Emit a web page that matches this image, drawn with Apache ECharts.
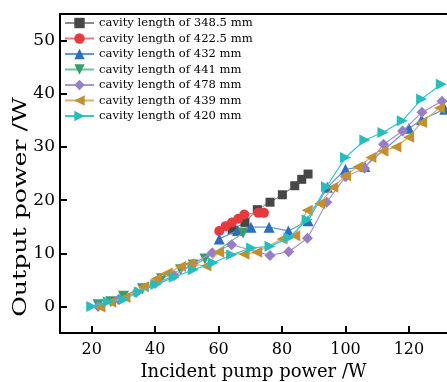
<!DOCTYPE html>
<html>
<head>
<meta charset="utf-8">
<script src="https://cdn.jsdelivr.net/npm/echarts@6/dist/echarts.min.js"></script>
<style>html,body{margin:0;padding:0;background:#fff}#c{width:447px;height:382px}</style>
</head>
<body>
<div id="c"></div>
<script>
const names = ['cavity length of 348.5 mm','cavity length of 422.5 mm','cavity length of 432 mm','cavity length of 441 mm','cavity length of 478 mm','cavity length of 439 mm','cavity length of 420 mm'];

const x348 = [64.3, 68.3, 72.2, 76.2, 80.1, 84.0, 86.2, 88.2];
const y348 = [14.4, 15.8, 18.2, 19.6, 21.0, 22.7, 23.9, 24.9];

const x4225 = [60.2, 62.2, 64.2, 66.2, 68.1, 72.5, 74.3];
const y4225 = [14.2, 15.1, 15.8, 16.5, 17.3, 17.6, 17.6];

const x432 = [60.2, 66.0, 70.2, 75.9, 82.0, 88.2, 94.3, 100.0, 106.1, 120.0, 124.0, 131.3];
const y432 = [12.7, 14.3, 14.9, 14.9, 14.2, 16.1, 22.4, 25.8, 26.3, 33.5, 35.1, 37.1];

const x441 = [22, 26, 30, 36, 42, 48, 52, 55.7, 67.7];
const y441 = [0.3, 0.9, 1.9, 3.3, 5.2, 6.9, 7.8, 8.9, 13.8];

const x478 = [22, 28.4, 34, 40, 46, 52, 58, 64.1, 76.2, 82.1, 88, 94.1, 100, 106, 112, 118, 124.1, 130.4];
const y478 = [0, 1.3, 2.6, 4.3, 5.8, 8.0, 10.1, 11.6, 9.6, 10.3, 12.8, 19.6, 24.4, 26.0, 30.5, 33.0, 36.5, 38.6];

const x439 = [22.6, 26, 30.5, 36.3, 40.3, 43.8, 48, 51, 56, 60, 68, 72, 80, 84, 87.9, 91.9, 96, 100, 103.8, 108, 111.8, 115.9, 119.9, 124, 129.6];
const y439 = [-0.1, 0.8, 1.7, 3.7, 5.2, 6.3, 7.5, 8.0, 7.6, 10.2, 9.8, 10.2, 12.7, 13.3, 18.1, 19.3, 22.4, 24.6, 26.2, 28.0, 29.2, 30.0, 31.8, 34.6, 37.3];

const x420 = [20, 25.2, 30.2, 35, 40.2, 46, 52, 58.3, 64.1, 70.4, 76.2, 82.2, 87.9, 94, 100, 106.1, 111.8, 117.9, 124, 130.2];
const y420 = [0, 0.9, 1.3, 2.7, 4.1, 5.5, 6.9, 8.2, 9.7, 11.0, 11.3, 12.9, 16.3, 22.5, 28.0, 31.3, 32.7, 34.9, 39.0, 41.8];

const xTicks = [20, 40, 60, 80, 100, 120];
const yTicks = [0, 10, 20, 30, 40, 50];
const xName = 'Incident pump power /W';
const yName = 'Output power /W';

const FONT = 'DejaVu Serif';
const zip = (xs, ys) => xs.map((v, i) => [v, ys[i]]);

const styles = [
  {sym:'rect', size:9, rot:0, c:'#474747', l:'#8c8c8c'},
  {sym:'circle', size:10, rot:0, c:'#e63a3f', l:'#ec7a82'},
  {sym:'triangle', size:11, rot:0, c:'#2b6fbe', l:'#5f98d4'},
  {sym:'triangle', size:11, rot:180, c:'#3a9c6e', l:'#6cc29b'},
  {sym:'diamond', size:11, rot:0, c:'#987ec7', l:'#a893d4'},
  {sym:'triangle', size:11, rot:90, c:'#c4902d', l:'#d8b068'},
  {sym:'triangle', size:11, rot:-90, c:'#28bcbc', l:'#3cc5c5'}
];
const datas = [zip(x348,y348), zip(x4225,y4225), zip(x432,y432), zip(x441,y441), zip(x478,y478), zip(x439,y439), zip(x420,y420)];

const series = names.map((n, i) => ({
  name: n, type: 'line', data: datas[i],
  symbol: styles[i].sym, symbolSize: styles[i].size, symbolRotate: styles[i].rot,
  itemStyle: {color: styles[i].c, opacity: 1},
  lineStyle: {color: styles[i].l, width: 1.2},
  z: 2 + i
}));

const chart = echarts.init(document.getElementById('c'), null, {renderer: 'canvas'});
chart.setOption({
  animation: false,
  backgroundColor: '#fff',
  grid: {left: 60, right: 0, top: 14, bottom: 49, containLabel: false, outerBoundsMode: 'none'},
  legend: {
    data: names, orient: 'vertical', left: 64, top: 17, padding: 0,
    itemWidth: 29, itemHeight: 13, itemGap: 3.5,
    textStyle: {fontFamily: FONT, fontSize: 11.6, color: '#000'}
  },
  graphic: [{
    type: 'text', x: 21, y: 207, rotation: Math.PI / 2, scaleX: 1.4,
    style: {text: yName, fontFamily: FONT, fontSize: 18, fill: '#000', align: 'center', verticalAlign: 'middle'}
  }],
  xAxis: [{
    type: 'value', min: 10, max: 132, minInterval: 20, maxInterval: 20,
    name: xName, nameLocation: 'middle', nameGap: 29,
    nameTextStyle: {fontFamily: FONT, fontSize: 18, color: '#000'},
    axisLine: {onZero: false, lineStyle: {color: '#000', width: 2}},
    axisTick: {inside: true, length: 7, lineStyle: {color: '#000', width: 2}},
    axisLabel: {fontFamily: FONT, fontSize: 16, color: '#000', margin: 9,
      showMinLabel: false, showMaxLabel: false,
      formatter: v => xTicks.includes(Math.round(v)) ? String(Math.round(v)) : ''},
    splitLine: {show: false}
  }, {
    type: 'value', position: 'top', min: 10, max: 132,
    axisLine: {show: true, onZero: false, lineStyle: {color: '#000', width: 2}},
    axisTick: {show: false}, axisLabel: {show: false}, splitLine: {show: false}
  }],
  yAxis: {
    type: 'value', min: -5, max: 55, minInterval: 10, maxInterval: 10,
    axisLine: {show: true, onZero: false, lineStyle: {color: '#000', width: 2}},
    axisTick: {inside: true, length: 7, lineStyle: {color: '#000', width: 2}},
    axisLabel: {fontFamily: FONT, fontSize: 17, color: '#000', margin: 5,
      formatter: v => yTicks.includes(v) ? String(v) : ''},
    splitLine: {show: false}
  },
  series: series
});
</script>
</body>
</html>
